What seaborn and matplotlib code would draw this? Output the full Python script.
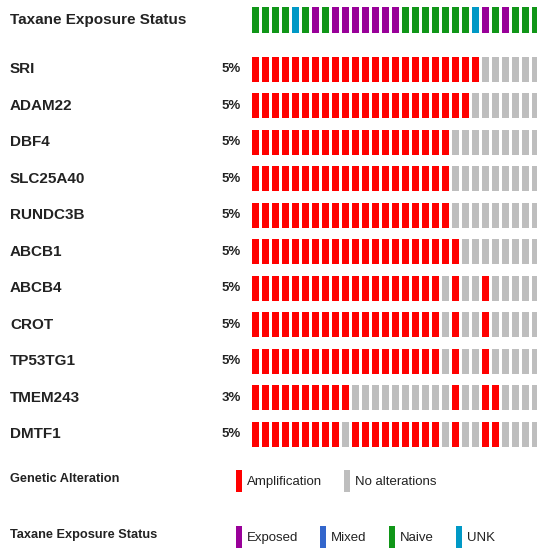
import matplotlib
matplotlib.use("Agg")
import matplotlib.pyplot as plt
import matplotlib.transforms as mtransforms
from matplotlib.patches import Patch
import seaborn as sns

sns.set_theme(style="white")
plt.rcParams["font.family"] = ["Liberation Sans", "DejaVu Sans"]

# Data
taxane_status = ["Naive", "Naive", "Naive", "Naive", "UNK", "Naive", "Exposed", "Naive",
                 "Exposed", "Exposed", "Exposed", "Exposed", "Exposed", "Exposed", "Exposed",
                 "Naive", "Naive", "Naive", "Naive", "Naive", "Naive", "Naive", "UNK",
                 "Exposed", "Naive", "Exposed", "Naive", "Naive", "Naive"]

genes = ["SRI", "ADAM22", "DBF4", "SLC25A40", "RUNDC3B", "ABCB1",
         "ABCB4", "CROT", "TP53TG1", "TMEM243", "DMTF1"]
pct = ["5%", "5%", "5%", "5%", "5%", "5%", "5%", "5%", "5%", "3%", "5%"]

# 1 = amplification, 0 = no alteration
sri      = [1]*23 + [0]*6
adam22   = [1]*22 + [0]*7
dbf4     = [1]*20 + [0]*9
slc25a40 = [1]*20 + [0]*9
rundc3b  = [1]*20 + [0]*9
abcb1    = [1]*21 + [0]*8
abcb4    = [1]*19 + [0] + [1] + [0, 0] + [1] + [0]*5
crot     = [1]*19 + [0] + [1] + [0, 0] + [1] + [0]*5
tp53tg1  = [1]*19 + [0] + [1] + [0, 0] + [1] + [0]*5
tmem243  = [1]*10 + [0]*10 + [1] + [0, 0] + [1, 1] + [0]*4
dmtf1    = [1]*9 + [0] + [1]*9 + [0] + [1] + [0, 0] + [1, 1] + [0]*4
alterations = [sri, adam22, dbf4, slc25a40, rundc3b, abcb1,
               abcb4, crot, tp53tg1, tmem243, dmtf1]

status_colors = {"Exposed": "#990099", "Mixed": "#3366CC", "Naive": "#109618", "UNK": "#0099C6"}
alt_colors = {1: "#FF0000", 0: "#BEBEBE"}
text_color = "#222222"

W, H = 537, 548
fig = plt.figure(figsize=(W / 100, H / 100), dpi=100)
ax = fig.add_axes([250 / W, 93 / H, 287 / W, 455 / H])
ax.set_xlim(-0.57, 28.13)
ax.set_ylim(10.57, -1.896)
ax.axis("off")

cols = list(range(len(taxane_status)))
bar_w = 0.67

# clinical track
ann_y, ann_h = -1.34, 0.71
ax.bar(cols, ann_h, bottom=ann_y - ann_h / 2, width=bar_w,
       color=[status_colors[s] for s in taxane_status], linewidth=0)

# gene tracks
row_h = 0.685
for i, row in enumerate(alterations):
    ax.bar(cols, row_h, bottom=i - row_h / 2, width=bar_w,
           color=[alt_colors[v] for v in row], linewidth=0)

trans = mtransforms.blended_transform_factory(fig.transFigure, ax.transData)
ax.text(10 / W, ann_y, "Taxane Exposure Status", transform=trans, ha="left", va="center",
        fontsize=11, fontweight="bold", color=text_color)
for i, (g, p) in enumerate(zip(genes, pct)):
    ax.text(10 / W, i, g, transform=trans, ha="left", va="center",
            fontsize=11, fontweight="bold", color=text_color)
    ax.text(241 / W, i, p, transform=trans, ha="right", va="center",
            fontsize=9.5, fontweight="bold", color=text_color)

# legends
fig.text(10 / W, 1 - 479 / H, "Genetic Alteration", ha="left", va="center",
         fontsize=9.2, fontweight="bold", color=text_color)
fig.text(10 / W, 1 - 535 / H, "Taxane Exposure Status", ha="left", va="center",
         fontsize=9.2, fontweight="bold", color=text_color)

fs = 9.5
fs_px = fs * 100 / 72
leg_kw = dict(loc="center left", frameon=False, handlelength=6 / fs_px,
              handleheight=2.19, handletextpad=5 / fs_px, columnspacing=22 / fs_px,
              borderpad=0, borderaxespad=0, fontsize=fs, labelcolor=text_color)

alt_labels = ["Amplification", "No alterations"]
alt_handles = [Patch(color=alt_colors[1], linewidth=0), Patch(color=alt_colors[0], linewidth=0)]
fig.legend(alt_handles, alt_labels, ncol=2, bbox_to_anchor=(236 / W, 1 - 481 / H), **leg_kw)

status_labels = ["Exposed", "Mixed", "Naive", "UNK"]
status_handles = [Patch(color=status_colors[s], linewidth=0) for s in status_labels]
fig.legend(status_handles, status_labels, ncol=4, bbox_to_anchor=(236 / W, 1 - 537 / H), **leg_kw)

fig.savefig("out.png", dpi=100)
